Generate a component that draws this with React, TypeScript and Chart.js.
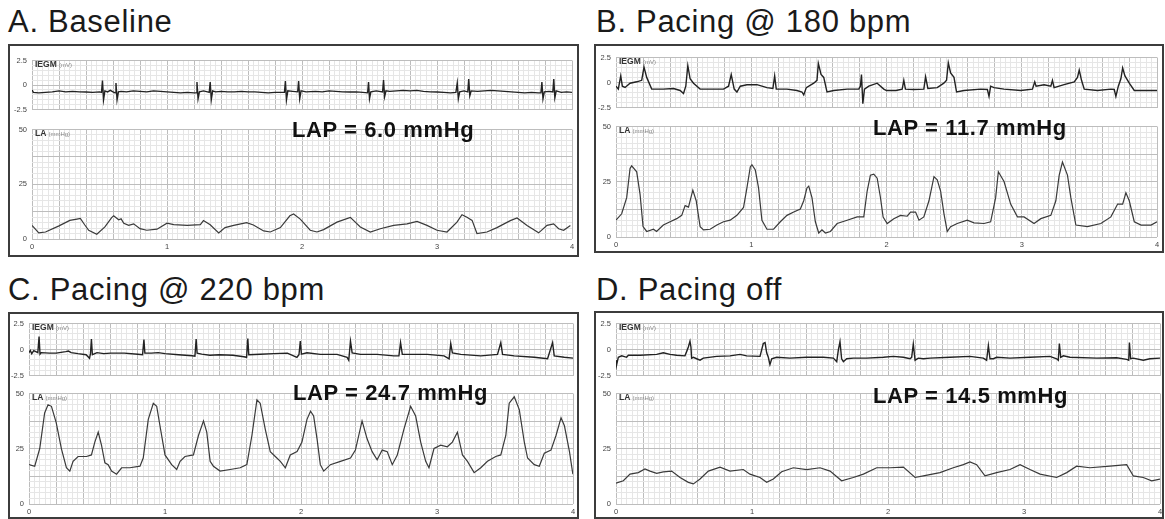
import React, { useEffect, useRef } from "react";
import { Chart, registerables } from "chart.js";

Chart.register(...registerables);

// ---------- text ----------
const panelTitles = ["A. Baseline", "B. Pacing @ 180 bpm", "C. Pacing @ 220 bpm", "D. Pacing off"];
const lapLabels = ["LAP = 6.0 mmHg", "LAP = 11.7 mmHg", "LAP = 24.7 mmHg", "LAP = 14.5 mmHg"];
const timeTickLabels = [0, 1, 2, 3, 4];
const iegmTickLabels = [2.5, 0, -2.5];
const laTickLabels = [50, 25, 0];

// ---------- IEGM traces (time s, mV) ----------
const iegmA: number[][] = [
  [0, -0.5], [0.01, -0.75], [0.05, -0.8], [0.1, -0.75], [0.15, -0.7], [0.2, -0.6], [0.25, -0.7], [0.3, -0.65], [0.35, -0.7], [0.4, -0.72], [0.45, -0.75], [0.5, -0.7],
  [0.515, -0.75], [0.522, 0.45], [0.53, -1.5], [0.54, -0.6], [0.56, -0.7], [0.58, -0.55], [0.6, -0.7],
  [0.615, -0.8], [0.622, 0.2], [0.63, -1.5], [0.64, -0.7], [0.66, -0.65], [0.7, -0.7], [0.75, -0.6], [0.8, -0.65], [0.85, -0.7], [0.9, -0.6], [0.95, -0.65], [1.0, -0.7], [1.05, -0.75], [1.1, -0.8], [1.15, -0.75], [1.2, -0.8],
  [1.215, -0.8], [1.222, 0.3], [1.23, -1.4], [1.24, -0.7], [1.27, -0.6], [1.3, -0.7],
  [1.313, -0.75], [1.32, 0.3], [1.328, -1.5], [1.338, -0.6], [1.36, -0.7], [1.4, -0.65], [1.45, -0.7], [1.5, -0.7], [1.55, -0.65], [1.6, -0.7], [1.65, -0.7], [1.7, -0.75], [1.75, -0.8], [1.8, -0.75], [1.85, -0.75],
  [1.87, -0.75], [1.877, 0.4], [1.885, -1.5], [1.895, -0.6], [1.93, -0.65],
  [1.968, -0.7], [1.975, 0.4], [1.983, -1.4], [1.993, -0.6], [2.03, -0.7], [2.1, -0.65], [2.15, -0.7], [2.2, -0.6], [2.25, -0.65], [2.3, -0.7], [2.35, -0.72], [2.4, -0.7], [2.45, -0.75],
  [2.486, -0.8], [2.493, 0.3], [2.5, -1.4], [2.51, -0.7], [2.55, -0.6],
  [2.597, -0.7], [2.604, 0.5], [2.612, -1.2], [2.622, -0.6], [2.65, -0.65], [2.7, -0.6], [2.75, -0.55], [2.8, -0.6], [2.85, -0.55], [2.9, -0.65], [2.95, -0.7], [3.0, -0.72], [3.05, -0.75], [3.1, -0.8], [3.14, -0.75],
  [3.15, 0.2], [3.158, -1.4], [3.168, -0.7], [3.2, -0.6],
  [3.228, -0.7], [3.235, 0.6], [3.243, -1.1], [3.253, -0.6], [3.3, -0.65], [3.35, -0.6], [3.4, -0.55], [3.45, -0.6], [3.5, -0.65], [3.55, -0.7], [3.6, -0.75], [3.65, -0.8], [3.7, -0.75], [3.75, -0.8],
  [3.77, -0.8], [3.777, 0.3], [3.785, -1.4], [3.795, -0.7], [3.83, -0.65],
  [3.858, -0.7], [3.865, 0.6], [3.873, -1.3], [3.883, -0.6], [3.92, -0.75], [3.96, -0.7], [4.0, -0.75],
];

const iegmB: number[][] = [
  [0, -0.37], [0.017, -0.66], [0.035, 0.66], [0.047, -0.37], [0.067, -0.5], [0.104, -0.07], [0.153, 0.07], [0.19, 0.22], [0.207, 1.54], [0.227, 0.51], [0.264, -0.66],
  [0.35, -0.66], [0.425, -0.6], [0.474, -0.8], [0.499, -1.1], [0.516, -0.37], [0.531, 1.68], [0.548, 0.37], [0.573, -0.07], [0.622, -0.66],
  [0.696, -0.66], [0.795, -0.66], [0.832, -0.37], [0.852, 0.8], [0.874, -0.66], [0.894, -0.95], [0.919, -0.37], [0.968, -0.22], [1.042, -0.22], [1.116, -0.51],
  [1.16, -0.6], [1.173, 0.66], [1.185, -0.66], [1.264, -0.66], [1.338, -0.8], [1.375, -0.95], [1.388, -1.24], [1.407, -0.51], [1.462, -0.07], [1.486, 0.22],
  [1.496, 1.91], [1.516, 0.8], [1.536, 0.51], [1.56, -0.95], [1.61, -0.8], [1.709, -0.66], [1.795, -0.66], [1.807, -0.37], [1.815, 0.8], [1.825, -2.12],
  [1.837, -0.66], [1.869, -0.37], [1.931, -0.07], [1.98, -0.66], [2.0, -0.8], [2.07, -0.8], [2.116, -0.66], [2.128, 0.22], [2.14, -0.66], [2.2, -0.7],
  [2.276, -0.66], [2.289, 0.57], [2.306, -0.6], [2.375, -0.51], [2.424, -0.07], [2.444, 0.22], [2.457, 1.97], [2.474, 0.95], [2.499, 0.51], [2.518, -0.95],
  [2.573, -0.8], [2.696, -0.66], [2.746, -0.7], [2.758, -1.39], [2.77, -0.37], [2.795, -0.51], [2.869, -0.66], [2.993, -0.8], [3.079, -0.66], [3.096, 0.07],
  [3.106, -0.37], [3.165, -0.22], [3.215, -0.37], [3.227, 0.22], [3.239, -0.51], [3.313, -0.22], [3.388, 0.07], [3.412, 0.51], [3.425, 1.24], [3.442, 0.22],
  [3.462, -0.66], [3.56, -0.8], [3.659, -0.66], [3.684, -0.7], [3.696, -1.39], [3.714, -0.37], [3.733, 0.37], [3.746, 1.45], [3.763, 0.66], [3.795, -0.07],
  [3.832, -0.8], [3.931, -0.8], [4.0, -0.8],
];

const iegmC: number[][] = [
  [0, -0.3], [0.01, -0.1], [0.02, -0.4], [0.035, -0.1], [0.05, -0.2], [0.065, -0.3], [0.074, 1.25], [0.081, -0.45], [0.09, -0.3], [0.15, -0.35], [0.2, -0.35],
  [0.27, -0.2], [0.29, -0.15], [0.31, -0.3], [0.36, -0.4], [0.42, -0.5], [0.445, -0.85], [0.452, -0.4], [0.459, 1.0], [0.466, -0.5], [0.5, -0.3], [0.55, -0.4],
  [0.6, -0.35], [0.7, -0.35], [0.8, -0.45], [0.835, -0.5], [0.845, 0.95], [0.852, -0.35], [0.9, -0.35], [0.95, -0.3], [1.0, -0.4], [1.1, -0.5], [1.2, -0.6],
  [1.22, -0.65], [1.229, 1.0], [1.236, -0.35], [1.27, -0.45], [1.33, -0.55], [1.4, -0.5], [1.5, -0.55], [1.58, -0.7], [1.6, -0.75], [1.609, 1.05], [1.616, -0.5],
  [1.7, -0.45], [1.8, -0.4], [1.9, -0.35], [1.97, -0.75], [1.985, -0.5], [1.995, 0.8], [2.003, -0.45], [2.044, -0.32], [2.142, -0.47], [2.265, -0.47],
  [2.339, -0.75], [2.351, -1.03], [2.364, 0.8], [2.376, -0.32], [2.437, -0.47], [2.56, -0.47], [2.683, -0.61], [2.72, -0.61], [2.732, 0.66], [2.745, -0.47],
  [2.83, -0.47], [2.929, -0.47], [3.052, -0.61], [3.089, -0.89], [3.101, 0.58], [3.113, -0.32], [3.175, -0.47], [3.322, -0.61], [3.445, -0.47], [3.469, 0.66],
  [3.482, -0.47], [3.568, -0.61], [3.715, -0.75], [3.813, -0.89], [3.85, 0.66], [3.862, -0.61], [3.936, -0.75], [4.0, -0.83],
];

const iegmD: number[][] = [
  [0, -1.03], [0.005, -1.45], [0.017, -0.75], [0.042, -0.61], [0.078, -0.75], [0.091, -0.55], [0.176, -0.55], [0.299, -0.47], [0.348, -0.32], [0.397, -0.47],
  [0.446, -0.55], [0.507, -0.61], [0.52, -0.18], [0.532, 0.24], [0.544, 0.8], [0.551, 0.24], [0.556, -0.83], [0.569, -0.75], [0.593, -0.89], [0.618, -1.03],
  [0.642, -0.83], [0.74, -0.66], [0.838, -0.61], [0.912, -0.47], [0.961, -0.61], [1.059, -0.66], [1.071, -0.04], [1.083, 0.58], [1.096, 0.66], [1.108, -0.32],
  [1.12, -0.75], [1.132, -1.45], [1.145, -0.89], [1.181, -0.75], [1.279, -0.83], [1.402, -0.75], [1.525, -0.75], [1.598, -0.83], [1.623, -1.17], [1.635, -0.04],
  [1.647, 0.75], [1.659, -0.89], [1.672, -1.17], [1.696, -0.89], [1.745, -0.83], [1.843, -0.83], [1.966, -0.75], [2.039, -0.66], [2.113, -0.75], [2.162, -0.89],
  [2.174, -0.75], [2.186, 0.52], [2.199, -1.03], [2.223, -0.83], [2.26, -0.89], [2.309, -0.83], [2.456, -0.75], [2.603, -0.66], [2.701, -0.83], [2.725, -1.03],
  [2.738, 0.38], [2.75, -0.89], [2.775, -0.89], [2.799, -0.75], [2.897, -0.83], [3.044, -0.75], [3.191, -0.66], [3.24, -0.89], [3.252, -1.03], [3.26, 0.58],
  [3.27, -0.75], [3.289, -0.61], [3.338, -0.75], [3.534, -0.83], [3.681, -0.8], [3.755, -0.95], [3.77, -1.03], [3.775, 0.66], [3.784, -0.89], [3.804, -0.83],
  [3.877, -1.03], [3.926, -0.89], [4.0, -0.83],
];

// ---------- LA pressure traces (time s, mmHg) ----------
const laA: number[][] = [
  [0, 6.2], [0.05, 2.8], [0.1, 3.2], [0.2, 6.0], [0.28, 8.5], [0.333, 9.1], [0.358, 9.4], [0.39, 6.5], [0.42, 4.0], [0.48, 2.2], [0.54, 5.5], [0.59, 9.8],
  [0.605, 10.6], [0.642, 8.8], [0.66, 9.2], [0.68, 7.2], [0.716, 6.2], [0.753, 6.9], [0.8, 4.7], [0.85, 4.0], [0.926, 4.5], [1.0, 7.2], [1.05, 6.6],
  [1.15, 6.2], [1.247, 6.6], [1.27, 8.4], [1.32, 6.5], [1.383, 2.8], [1.43, 5.2], [1.494, 6.2], [1.59, 7.5], [1.64, 6.4], [1.716, 3.7], [1.765, 3.2],
  [1.84, 5.2], [1.91, 10.6], [1.938, 11.4], [1.987, 9.1], [2.061, 4.0], [2.111, 3.2], [2.16, 4.3], [2.259, 7.7], [2.358, 9.9], [2.432, 5.5], [2.506, 3.2],
  [2.58, 4.7], [2.679, 6.2], [2.778, 6.9], [2.852, 8.0], [2.926, 6.2], [3.0, 4.0], [3.074, 3.2], [3.148, 7.7], [3.185, 11.1], [3.222, 9.9], [3.26, 8.5],
  [3.296, 2.5], [3.37, 3.2], [3.444, 5.2], [3.543, 8.4], [3.593, 9.6], [3.667, 6.2], [3.753, 2.8], [3.815, 6.2], [3.864, 6.9], [3.901, 4.7], [3.938, 4.0],
  [3.988, 6.2],
];

const laB: number[][] = [
  [0, 7.6], [0.042, 10.5], [0.079, 17.8], [0.104, 31.0], [0.116, 32.2], [0.153, 29.5], [0.178, 19.3], [0.2, 4.7], [0.227, 2.5], [0.277, 3.5], [0.3, 2.5],
  [0.35, 5.4], [0.4, 6.9], [0.449, 8.3], [0.486, 9.8], [0.511, 14.2], [0.536, 13.5], [0.568, 21.2], [0.593, 16.4], [0.622, 4.7], [0.647, 3.2], [0.696, 3.5],
  [0.746, 5.4], [0.795, 6.9], [0.844, 7.6], [0.894, 9.8], [0.943, 13.4], [0.968, 22.2], [0.993, 31.7], [1.005, 32.7], [1.03, 30.3], [1.054, 22.2],
  [1.079, 7.6], [1.116, 3.5], [1.165, 3.5], [1.215, 6.9], [1.264, 9.8], [1.314, 11.3], [1.363, 12.7], [1.388, 16.4], [1.412, 22.2], [1.425, 23.0],
  [1.449, 17.8], [1.474, 6.9], [1.499, 1.8], [1.523, 3.2], [1.548, 1.8], [1.585, 2.5], [1.635, 6.1], [1.709, 7.6], [1.783, 9.1], [1.832, 9.1], [1.857, 20.8],
  [1.881, 28.0], [1.906, 28.4], [1.931, 26.6], [1.955, 18.0], [1.975, 9.0], [2.005, 6.1], [2.054, 8.3], [2.104, 9.8], [2.153, 9.4], [2.178, 11.3],
  [2.215, 11.3], [2.24, 7.6], [2.276, 9.1], [2.314, 16.4], [2.351, 27.3], [2.375, 25.9], [2.4, 20.8], [2.425, 10.5], [2.449, 2.5], [2.474, 4.7], [2.523, 6.1],
  [2.597, 7.6], [2.647, 6.4], [2.721, 6.1], [2.77, 6.9], [2.807, 17.8], [2.827, 29.5], [2.869, 25.1], [2.918, 14.9], [2.968, 9.1], [3.017, 9.1], [3.091, 6.1],
  [3.141, 8.3], [3.215, 9.8], [3.252, 16.4], [3.277, 28.0], [3.301, 33.9], [3.338, 28.0], [3.363, 17.8], [3.4, 5.4], [3.486, 4.7], [3.585, 6.1], [3.659, 9.1],
  [3.709, 14.9], [3.746, 14.9], [3.77, 20.0], [3.795, 16.4], [3.832, 6.9], [3.882, 5.4], [3.956, 5.4], [4.0, 6.9],
];

const laC: number[][] = [
  [0, 17.8], [0.042, 17.1], [0.079, 25.1], [0.115, 41.2], [0.14, 44.9], [0.165, 44.2], [0.2, 36.8], [0.238, 25.1], [0.275, 16.4], [0.3, 14.9], [0.324, 19.3],
  [0.361, 21.5], [0.423, 21.5], [0.459, 22.2], [0.484, 28.0], [0.509, 32.5], [0.533, 26.6], [0.558, 18.6], [0.582, 17.8], [0.607, 14.9], [0.644, 13.5],
  [0.681, 16.4], [0.742, 16.4], [0.816, 17.1], [0.84, 20.8], [0.877, 38.3], [0.914, 45.6], [0.939, 44.2], [0.963, 35.4], [1.0, 22.2], [1.049, 17.8],
  [1.086, 15.6], [1.111, 19.3], [1.147, 21.5], [1.209, 22.2], [1.246, 31.0], [1.283, 37.6], [1.307, 32.5], [1.332, 19.3], [1.356, 17.1], [1.405, 14.9],
  [1.479, 15.6], [1.553, 16.4], [1.602, 17.8], [1.639, 31.0], [1.676, 47.1], [1.7, 45.6], [1.737, 33.9], [1.774, 23.7], [1.811, 21.5], [1.848, 19.3],
  [1.885, 16.4], [1.921, 22.2], [1.971, 23.7], [2.007, 28.0], [2.044, 38.3], [2.07, 42.0], [2.093, 39.8], [2.118, 29.5], [2.142, 17.8], [2.167, 14.9],
  [2.216, 17.8], [2.29, 19.3], [2.364, 20.8], [2.4, 24.4], [2.449, 37.6], [2.486, 29.5], [2.523, 23.7], [2.56, 20.0], [2.597, 24.4], [2.634, 23.7],
  [2.671, 17.8], [2.708, 22.2], [2.757, 33.9], [2.806, 44.2], [2.843, 39.8], [2.88, 28.0], [2.917, 19.3], [2.941, 16.4], [2.978, 25.1], [3.027, 26.6],
  [3.076, 25.9], [3.113, 28.0], [3.15, 32.5], [3.187, 22.2], [3.224, 19.3], [3.273, 14.2], [3.322, 16.4], [3.371, 19.3], [3.432, 21.5], [3.469, 22.2],
  [3.506, 31.0], [3.531, 45.6], [3.568, 48.5], [3.605, 42.7], [3.642, 28.0], [3.666, 20.8], [3.715, 17.8], [3.752, 17.1], [3.789, 23.0], [3.838, 24.4],
  [3.875, 31.0], [3.912, 39.0], [3.937, 35.4], [3.974, 23.7], [3.999, 13.5],
];

const laD: number[][] = [
  [0, 9.4], [0.054, 10.5], [0.103, 13.5], [0.164, 14.2], [0.213, 15.9], [0.25, 14.9], [0.299, 13.9], [0.348, 14.5], [0.409, 14.9], [0.471, 12.0], [0.532, 9.8],
  [0.569, 9.1], [0.618, 11.3], [0.679, 14.9], [0.765, 16.7], [0.838, 14.9], [0.936, 15.6], [0.985, 13.5], [1.059, 12.0], [1.108, 9.8], [1.157, 11.3],
  [1.218, 14.6], [1.304, 16.4], [1.402, 15.6], [1.5, 16.4], [1.574, 14.9], [1.659, 10.5], [1.745, 12.0], [1.819, 13.5], [1.917, 16.4], [2.015, 16.4],
  [2.113, 16.7], [2.199, 12.0], [2.26, 12.7], [2.382, 14.2], [2.48, 16.4], [2.554, 17.8], [2.603, 19.0], [2.652, 17.8], [2.713, 12.7], [2.799, 14.2],
  [2.897, 15.6], [2.971, 17.8], [3.044, 15.6], [3.118, 13.5], [3.24, 12.0], [3.314, 14.2], [3.387, 17.1], [3.485, 16.4], [3.632, 17.1], [3.755, 17.8],
  [3.804, 12.7], [3.877, 12.0], [3.939, 10.5], [4.0, 11.3],
];

const iegmTraces = [iegmA, iegmB, iegmC, iegmD];
const laTraces = [laA, laB, laC, laD];

// ---------- layout (page pixels) ----------
type Layout = {
  frame: [number, number, number, number];
  plotL: number;
  plotR: number;
  iegm: [number, number];
  la: [number, number];
  title: [number, number];
  lap: [number, number];
};

const layouts: Layout[] = [
  { frame: [8, 44, 571, 213], plotL: 32, plotR: 572, iegm: [57, 113], la: [126, 239], title: [8, 6], lap: [292, 119] },
  { frame: [594, 44, 570, 209], plotL: 616, plotR: 1157, iegm: [54, 111], la: [123, 237], title: [596, 6], lap: [873, 117] },
  { frame: [8, 312, 571, 207], plotL: 29, plotR: 573, iegm: [320, 379], la: [390, 504], title: [8, 274], lap: [293, 382] },
  { frame: [594, 311, 570, 208], plotL: 616, plotR: 1160, iegm: [320, 379], la: [390, 504], title: [596, 274], lap: [873, 385] },
];

const FONT = '"Liberation Sans", Arial, Helvetica, sans-serif';
const MAJOR = "#bdbdbd";
const MINOR = "#e6e6e6";

type StripProps = {
  points: number[][];
  yMin: number;
  yMax: number;
  minor: number;
  major: number;
  labels: number[];
  left: number;
  right: number;
  top: number;
  bottom: number;
  showX: boolean;
  lineWidth: number;
  color: string;
};

const isMult = (v: number, s: number) => Math.abs(v / s - Math.round(v / s)) < 1e-6;

function StripChart(p: StripProps) {
  const ref = useRef<HTMLCanvasElement | null>(null);
  const AXW = 24;
  const PADT = 6;
  const PADR = 6;
  const XH = p.showX ? 12 : 0;
  const PADB = p.showX ? 0 : 6;
  const w = p.right - p.left + AXW + PADR;
  const h = p.bottom - p.top + PADT + XH + PADB;

  useEffect(() => {
    if (!ref.current) return;
    const xt: number[] = [];
    for (let i = 0; i <= 100; i++) xt.push(Math.round(i * 4) / 100);
    const yt: number[] = [];
    const n = Math.round((p.yMax - p.yMin) / p.minor);
    for (let i = 0; i <= n; i++) yt.push(+(p.yMin + i * p.minor).toFixed(4));

    const chart = new Chart(ref.current, {
      type: "line",
      data: {
        datasets: [
          {
            data: p.points.map((q) => ({ x: q[0], y: q[1] })),
            borderColor: p.color,
            borderWidth: p.lineWidth,
            pointRadius: 0,
            tension: 0,
            fill: false,
          },
        ],
      },
      options: {
        animation: false,
        responsive: false,
        events: [],
        layout: { padding: { left: 0, right: PADR, top: PADT, bottom: PADB } },
        plugins: { legend: { display: false }, tooltip: { enabled: false }, title: { display: false } },
        scales: {
          x: {
            type: "linear",
            min: 0,
            max: 4,
            afterBuildTicks: (s: any) => {
              s.ticks = xt.map((v) => ({ value: v }));
            },
            afterFit: (s: any) => {
              s.height = XH;
            },
            border: { display: false },
            grid: {
              drawTicks: false,
              lineWidth: 1,
              color: (c: any) => (c.tick && isMult(c.tick.value, 0.2) ? MAJOR : MINOR),
            },
            ticks: {
              display: p.showX,
              autoSkip: false,
              maxRotation: 0,
              padding: 3,
              color: "#444",
              font: { size: 7.5, family: FONT },
              callback: (v: any) => (timeTickLabels.includes(Number(v)) ? String(v) : ""),
            },
          },
          y: {
            type: "linear",
            min: p.yMin,
            max: p.yMax,
            afterBuildTicks: (s: any) => {
              s.ticks = yt.map((v) => ({ value: v }));
            },
            afterFit: (s: any) => {
              s.width = AXW;
            },
            border: { display: false },
            grid: {
              drawTicks: false,
              lineWidth: 1,
              color: (c: any) => (c.tick && isMult(c.tick.value, p.major) ? MAJOR : MINOR),
            },
            ticks: {
              autoSkip: false,
              padding: 5,
              color: "#444",
              font: { size: 7.5, family: FONT },
              callback: (v: any) => (p.labels.includes(Number(v)) ? String(v) : ""),
            },
          },
        },
      },
    } as any);
    return () => chart.destroy();
  }, []);

  return (
    <canvas
      ref={ref}
      width={w}
      height={h}
      style={{ position: "absolute", left: p.left - AXW, top: p.top - PADT, width: w, height: h }}
    />
  );
}

function ChannelLabel({ left, top, name, unit }: { left: number; top: number; name: string; unit: string }) {
  return (
    <div
      style={{
        position: "absolute",
        left,
        top,
        fontFamily: FONT,
        fontSize: 8.5,
        fontWeight: "bold",
        color: "#333",
        lineHeight: "10px",
        whiteSpace: "nowrap",
        zIndex: 2,
      }}
    >
      {name}{" "}
      <span style={{ fontSize: 6, fontWeight: "normal", color: "#888" }}>{unit}</span>
    </div>
  );
}

export default function App() {
  return (
    <div
      style={{
        position: "absolute",
        left: 0,
        top: 0,
        width: 1165,
        height: 519,
        overflow: "hidden",
        background: "#fff",
      }}
    >
      {layouts.map((L, i) => (
        <React.Fragment key={i}>
          <div
            style={{
              position: "absolute",
              left: L.title[0],
              top: L.title[1],
              fontFamily: FONT,
              fontSize: 31,
              lineHeight: "31px",
              letterSpacing: 0.7,
              color: "#1a1a1a",
              whiteSpace: "nowrap",
            }}
          >
            {panelTitles[i]}
          </div>
          <div
            style={{
              position: "absolute",
              left: L.frame[0],
              top: L.frame[1],
              width: L.frame[2],
              height: L.frame[3],
              boxSizing: "border-box",
              border: "2px solid #3c3c3c",
            }}
          />
          <StripChart
            points={iegmTraces[i]}
            yMin={-2.5}
            yMax={2.5}
            minor={0.5}
            major={2.5}
            labels={iegmTickLabels}
            left={L.plotL}
            right={L.plotR}
            top={L.iegm[0]}
            bottom={L.iegm[1]}
            showX={false}
            lineWidth={1.4}
            color="#222"
          />
          <StripChart
            points={laTraces[i]}
            yMin={0}
            yMax={50}
            minor={2.5}
            major={12.5}
            labels={laTickLabels}
            left={L.plotL}
            right={L.plotR}
            top={L.la[0]}
            bottom={L.la[1]}
            showX={true}
            lineWidth={1.2}
            color="#3a3a3a"
          />
          <ChannelLabel left={L.plotL + 3} top={L.iegm[0] + 2} name="IEGM" unit="(mV)" />
          <ChannelLabel left={L.plotL + 3} top={L.la[0] + 2} name="LA" unit="(mmHg)" />
          <div
            style={{
              position: "absolute",
              left: L.lap[0],
              top: L.lap[1],
              fontFamily: FONT,
              fontSize: 22,
              lineHeight: "22px",
              fontWeight: "bold",
              letterSpacing: 0.6,
              color: "#111",
              whiteSpace: "nowrap",
              zIndex: 3,
            }}
          >
            {lapLabels[i]}
          </div>
        </React.Fragment>
      ))}
    </div>
  );
}
